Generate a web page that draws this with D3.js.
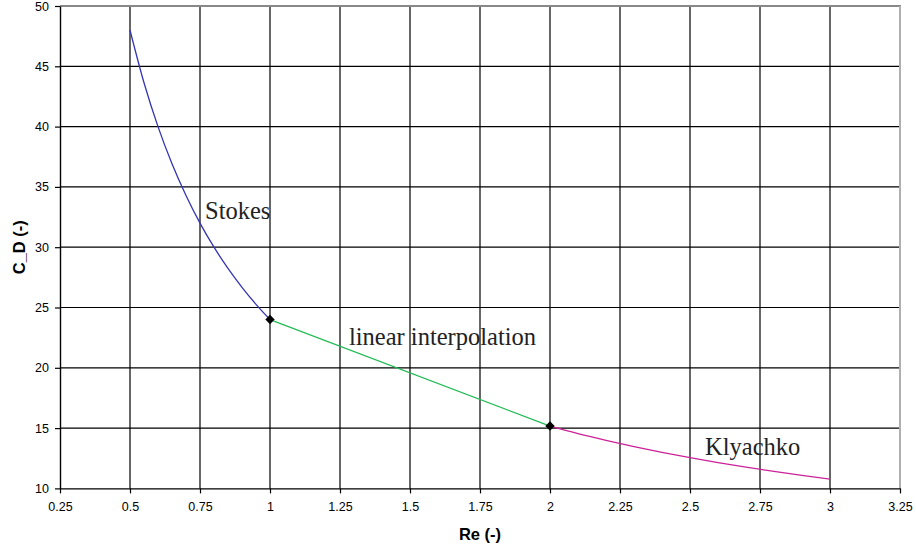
<!DOCTYPE html>
<html>
<head>
<meta charset="utf-8">
<script src="https://cdn.jsdelivr.net/npm/d3@7"></script>
<style>
  html, body { margin: 0; padding: 0; background: #fff; }
  svg { display: block; }
</style>
</head>
<body>
<svg id="chart" width="916" height="550"></svg>
<script>
// Drag coefficient vs Reynolds number: Stokes, linear interpolation, Klyachko
const xTicks = [0.25, 0.5, 0.75, 1, 1.25, 1.5, 1.75, 2, 2.25, 2.5, 2.75, 3, 3.25];
const xTickLabels = ["0.25", "0.5", "0.75", "1", "1.25", "1.5", "1.75", "2", "2.25", "2.5", "2.75", "3", "3.25"];
const yTicks = [10, 15, 20, 25, 30, 35, 40, 45, 50];

const stokesRe = [0.5, 0.55, 0.6, 0.65, 0.7, 0.75, 0.8, 0.85, 0.9, 0.95, 1.0];
const stokesCd = [48, 43.64, 40, 36.92, 34.29, 32, 30, 28.24, 26.67, 25.26, 24];

const linearRe = [1, 2];
const linearCd = [24, 15.17];

const klyachkoRe = [2.0, 2.1, 2.2, 2.3, 2.4, 2.5, 2.6, 2.7, 2.8, 2.9, 3.0];
const klyachkoCd = [15.17, 14.55, 13.99, 13.47, 12.99, 12.55, 12.14, 11.76, 11.41, 11.08, 10.77];

const jointRe = [1, 2];
const jointCd = [24, 15.17];

(function () {
  const svg = d3.select("#chart");
  const pLeft = 60, pRight = 900, pTop = 6, pBottom = 488.4;

  const x = d3.scaleLinear().domain([0.25, 3.25]).range([pLeft, pRight]);
  const y = d3.scaleLinear().domain([10, 50]).range([pBottom, pTop]);

  // gridlines
  const grid = svg.append("g");
  grid.selectAll("line.v").data(xTicks.slice(1, -1)).enter().append("line")
    .attr("x1", d => x(d)).attr("x2", d => x(d))
    .attr("y1", pTop).attr("y2", pBottom)
    .attr("stroke", "#000").attr("stroke-width", 1.2);
  grid.selectAll("line.h").data(yTicks.slice(1, -1)).enter().append("line")
    .attr("x1", pLeft).attr("x2", pRight)
    .attr("y1", d => y(d)).attr("y2", d => y(d))
    .attr("stroke", "#000").attr("stroke-width", 1.2);

  // plot frame: grey top and right edges
  svg.append("line").attr("x1", pLeft).attr("x2", pRight + 1).attr("y1", pTop).attr("y2", pTop)
    .attr("stroke", "#888").attr("stroke-width", 2);
  svg.append("line").attr("x1", pRight).attr("x2", pRight).attr("y1", pTop).attr("y2", pBottom)
    .attr("stroke", "#b0b0b0").attr("stroke-width", 2);

  // axes
  const xAxis = d3.axisBottom(x).tickValues(xTicks)
    .tickFormat((d, i) => xTickLabels[i]).tickSize(5).tickSizeOuter(0).tickPadding(9);
  const yAxis = d3.axisLeft(y).tickValues(yTicks).tickSize(5).tickSizeOuter(0).tickPadding(6);

  const gx = svg.append("g").attr("transform", `translate(0,${pBottom})`).call(xAxis);
  const gy = svg.append("g").attr("transform", `translate(${pLeft},0)`).call(yAxis);
  [gx, gy].forEach(g => {
    g.select(".domain").attr("stroke", "#000").attr("stroke-width", 1.4);
    g.selectAll(".tick line").attr("stroke", "#000").attr("stroke-width", 1.2);
    g.selectAll(".tick text").attr("fill", "#000")
      .style("font-family", "Arial, 'Liberation Sans', sans-serif").style("font-size", "12.5px");
  });

  // curves
  const line = d3.line().x(d => x(d[0])).y(d => y(d[1])).curve(d3.curveMonotoneX);
  const series = [
    { re: stokesRe, cd: stokesCd, color: "#3535b5" },
    { re: linearRe, cd: linearCd, color: "#22bb55" },
    { re: klyachkoRe, cd: klyachkoCd, color: "#cc2299" }
  ];
  series.forEach(s => {
    svg.append("path")
      .datum(s.re.map((r, i) => [r, s.cd[i]]))
      .attr("d", line)
      .attr("fill", "none")
      .attr("stroke", s.color)
      .attr("stroke-width", 1.3);
  });

  // joint markers
  svg.selectAll("path.marker").data(jointRe.map((r, i) => [r, jointCd[i]])).enter()
    .append("path")
    .attr("class", "marker")
    .attr("d", d3.symbol().type(d3.symbolDiamond2).size(56))
    .attr("transform", d => `translate(${x(d[0])},${y(d[1])})`)
    .attr("fill", "#000");

  // curve labels
  const serif = "'Times New Roman', 'Liberation Serif', serif";
  const labels = [
    { text: "Stokes", re: 0.768, cd: 32.3 },
    { text: "linear interpolation", re: 1.282, cd: 21.9 },
    { text: "Klyachko", re: 2.554, cd: 12.77 }
  ];
  svg.selectAll("text.lbl").data(labels).enter().append("text")
    .attr("class", "lbl")
    .attr("x", d => x(d.re)).attr("y", d => y(d.cd))
    .text(d => d.text)
    .attr("fill", "#222")
    .style("font-family", serif).style("font-size", "24.5px");

  // axis titles
  svg.append("text")
    .attr("x", (pLeft + pRight) / 2).attr("y", 540)
    .attr("text-anchor", "middle")
    .style("font-family", "Arial, 'Liberation Sans', sans-serif")
    .style("font-weight", "bold").style("font-size", "16.5px")
    .text("Re (-)");
  svg.append("text")
    .attr("transform", `translate(25,${(pTop + pBottom) / 2}) rotate(-90)`)
    .attr("text-anchor", "middle")
    .style("font-family", "Arial, 'Liberation Sans', sans-serif")
    .style("font-weight", "bold").style("font-size", "16.5px")
    .text("C_D (-)");
})();
</script>
</body>
</html>
